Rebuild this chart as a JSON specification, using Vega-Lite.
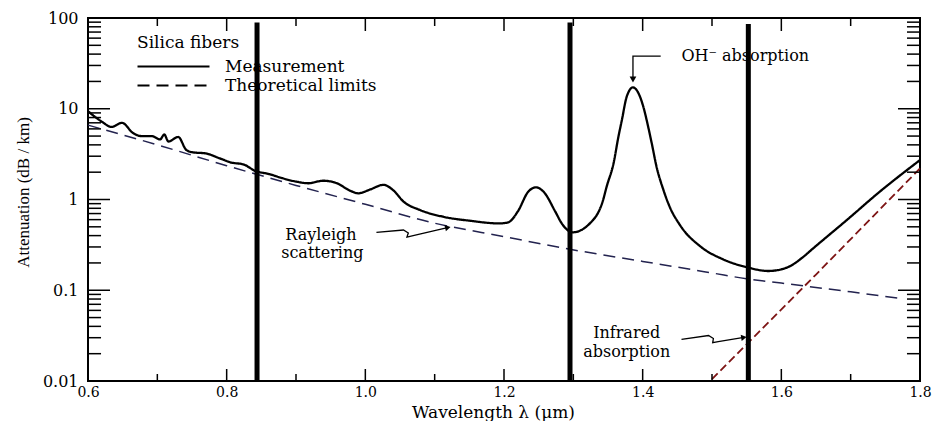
{
  "$schema": "https://vega.github.io/schema/vega-lite/v6.json",
  "width": 832,
  "height": 363,
  "autosize": {"type": "none"},
  "padding": {"left": 88, "top": 18, "right": 13, "bottom": 40},
  "background": "white",
  "config": {
    "view": {"stroke": "black", "strokeWidth": 2},
    "axis": {
      "domain": false,
      "ticks": false,
      "grid": false,
      "labelColor": "black",
      "titleColor": "black",
      "labelFont": "DejaVu Serif",
      "titleFont": "Liberation Serif",
      "titleFontWeight": "normal",
      "labelOverlap": false,
      "labelFlush": false
    }
  },
  "datasets": {
    "measurement": [
      {"x": 0.600, "y": 9.4}, {"x": 0.620, "y": 7.2}, {"x": 0.634, "y": 6.3}, {"x": 0.649, "y": 7.0},
      {"x": 0.665, "y": 5.4}, {"x": 0.677, "y": 5.0}, {"x": 0.692, "y": 5.0}, {"x": 0.704, "y": 4.6},
      {"x": 0.710, "y": 5.2}, {"x": 0.716, "y": 4.35}, {"x": 0.730, "y": 4.9}, {"x": 0.742, "y": 3.5},
      {"x": 0.752, "y": 3.3}, {"x": 0.769, "y": 3.23}, {"x": 0.790, "y": 2.84}, {"x": 0.807, "y": 2.55},
      {"x": 0.824, "y": 2.44}, {"x": 0.841, "y": 2.07}, {"x": 0.862, "y": 1.9}, {"x": 0.880, "y": 1.72},
      {"x": 0.901, "y": 1.57}, {"x": 0.918, "y": 1.51}, {"x": 0.939, "y": 1.61}, {"x": 0.959, "y": 1.51},
      {"x": 0.978, "y": 1.25}, {"x": 0.990, "y": 1.17}, {"x": 1.007, "y": 1.29}, {"x": 1.026, "y": 1.45},
      {"x": 1.040, "y": 1.27}, {"x": 1.055, "y": 0.95}, {"x": 1.079, "y": 0.765}, {"x": 1.112, "y": 0.646},
      {"x": 1.151, "y": 0.583}, {"x": 1.194, "y": 0.545}, {"x": 1.206, "y": 0.56}, {"x": 1.220, "y": 0.74},
      {"x": 1.235, "y": 1.22}, {"x": 1.246, "y": 1.36}, {"x": 1.257, "y": 1.22}, {"x": 1.274, "y": 0.735},
      {"x": 1.283, "y": 0.55}, {"x": 1.299, "y": 0.435}, {"x": 1.324, "y": 0.547}, {"x": 1.343, "y": 0.99},
      {"x": 1.348, "y": 1.38}, {"x": 1.358, "y": 2.5}, {"x": 1.365, "y": 4.9}, {"x": 1.370, "y": 7.5},
      {"x": 1.377, "y": 13.6}, {"x": 1.386, "y": 17.2}, {"x": 1.394, "y": 14.8}, {"x": 1.401, "y": 10.5},
      {"x": 1.408, "y": 6.3}, {"x": 1.413, "y": 4.2}, {"x": 1.420, "y": 2.3}, {"x": 1.430, "y": 1.27},
      {"x": 1.439, "y": 0.83}, {"x": 1.454, "y": 0.52}, {"x": 1.483, "y": 0.305}, {"x": 1.516, "y": 0.219},
      {"x": 1.552, "y": 0.178}, {"x": 1.581, "y": 0.163}, {"x": 1.597, "y": 0.168}, {"x": 1.613, "y": 0.185},
      {"x": 1.630, "y": 0.228}, {"x": 1.646, "y": 0.29},
      {"x": 1.694, "y": 0.59}, {"x": 1.742, "y": 1.22}, {"x": 1.800, "y": 2.72}
    ],
    "rayleigh": [
      {"x": 0.60, "y": 6.6}, {"x": 0.70, "y": 4.0}, {"x": 0.80, "y": 2.36}, {"x": 0.90, "y": 1.43},
      {"x": 1.00, "y": 0.885}, {"x": 1.10, "y": 0.548}, {"x": 1.20, "y": 0.39}, {"x": 1.295, "y": 0.283},
      {"x": 1.40, "y": 0.208}, {"x": 1.50, "y": 0.155}, {"x": 1.552, "y": 0.133}, {"x": 1.60, "y": 0.120},
      {"x": 1.70, "y": 0.096}, {"x": 1.771, "y": 0.0815}
    ],
    "infrared": [
      {"x": 1.500, "y": 0.0105}, {"x": 1.650, "y": 0.149}, {"x": 1.800, "y": 2.2}
    ],
    "windows": [
      {"x": 0.8438, "y0": 0.01, "y1": 89},
      {"x": 1.2952, "y0": 0.01, "y1": 89},
      {"x": 1.5524, "y0": 0.01, "y1": 86}
    ],
    "ticks": [
      {"x0": 0.6, "x1": 0.6, "y0": 0.01, "y1": 0.01356}, {"x0": 0.7, "x1": 0.7, "y0": 0.01, "y1": 0.01194},
      {"x0": 0.8, "x1": 0.8, "y0": 0.01, "y1": 0.01356}, {"x0": 0.9, "x1": 0.9, "y0": 0.01, "y1": 0.01194},
      {"x0": 1.0, "x1": 1.0, "y0": 0.01, "y1": 0.01356}, {"x0": 1.1, "x1": 1.1, "y0": 0.01, "y1": 0.01194},
      {"x0": 1.2, "x1": 1.2, "y0": 0.01, "y1": 0.01356}, {"x0": 1.3, "x1": 1.3, "y0": 0.01, "y1": 0.01194},
      {"x0": 1.4, "x1": 1.4, "y0": 0.01, "y1": 0.01356}, {"x0": 1.5, "x1": 1.5, "y0": 0.01, "y1": 0.01194},
      {"x0": 1.6, "x1": 1.6, "y0": 0.01, "y1": 0.01356}, {"x0": 1.7, "x1": 1.7, "y0": 0.01, "y1": 0.01194},
      {"x0": 1.8, "x1": 1.8, "y0": 0.01, "y1": 0.01356},
      {"x0": 0.6, "x1": 0.6, "y0": 100, "y1": 71.9}, {"x0": 0.7, "x1": 0.7, "y0": 100, "y1": 81.6},
      {"x0": 0.8, "x1": 0.8, "y0": 100, "y1": 71.9}, {"x0": 0.9, "x1": 0.9, "y0": 100, "y1": 81.6},
      {"x0": 1.0, "x1": 1.0, "y0": 100, "y1": 71.9}, {"x0": 1.1, "x1": 1.1, "y0": 100, "y1": 81.6},
      {"x0": 1.2, "x1": 1.2, "y0": 100, "y1": 71.9}, {"x0": 1.3, "x1": 1.3, "y0": 100, "y1": 81.6},
      {"x0": 1.4, "x1": 1.4, "y0": 100, "y1": 71.9}, {"x0": 1.5, "x1": 1.5, "y0": 100, "y1": 81.6},
      {"x0": 1.6, "x1": 1.6, "y0": 100, "y1": 71.9}, {"x0": 1.7, "x1": 1.7, "y0": 100, "y1": 81.6},
      {"x0": 1.8, "x1": 1.8, "y0": 100, "y1": 71.9},
      {"x0": 0.6, "x1": 0.6317, "y0": 0.01, "y1": 0.01}, {"x0": 0.6, "x1": 0.6188, "y0": 0.02, "y1": 0.02},
      {"x0": 0.6, "x1": 0.6188, "y0": 0.03, "y1": 0.03}, {"x0": 0.6, "x1": 0.6188, "y0": 0.04, "y1": 0.04},
      {"x0": 0.6, "x1": 0.6188, "y0": 0.05, "y1": 0.05}, {"x0": 0.6, "x1": 0.6188, "y0": 0.06, "y1": 0.06},
      {"x0": 0.6, "x1": 0.6188, "y0": 0.07, "y1": 0.07}, {"x0": 0.6, "x1": 0.6188, "y0": 0.08, "y1": 0.08},
      {"x0": 0.6, "x1": 0.6188, "y0": 0.09, "y1": 0.09}, {"x0": 0.6, "x1": 0.6317, "y0": 0.1, "y1": 0.1},
      {"x0": 0.6, "x1": 0.6188, "y0": 0.2, "y1": 0.2}, {"x0": 0.6, "x1": 0.6188, "y0": 0.3, "y1": 0.3},
      {"x0": 0.6, "x1": 0.6188, "y0": 0.4, "y1": 0.4}, {"x0": 0.6, "x1": 0.6188, "y0": 0.5, "y1": 0.5},
      {"x0": 0.6, "x1": 0.6188, "y0": 0.6, "y1": 0.6}, {"x0": 0.6, "x1": 0.6188, "y0": 0.7, "y1": 0.7},
      {"x0": 0.6, "x1": 0.6188, "y0": 0.8, "y1": 0.8}, {"x0": 0.6, "x1": 0.6188, "y0": 0.9, "y1": 0.9},
      {"x0": 0.6, "x1": 0.6317, "y0": 1, "y1": 1}, {"x0": 0.6, "x1": 0.6188, "y0": 2, "y1": 2},
      {"x0": 0.6, "x1": 0.6188, "y0": 3, "y1": 3}, {"x0": 0.6, "x1": 0.6188, "y0": 4, "y1": 4},
      {"x0": 0.6, "x1": 0.6188, "y0": 5, "y1": 5}, {"x0": 0.6, "x1": 0.6188, "y0": 6, "y1": 6},
      {"x0": 0.6, "x1": 0.6188, "y0": 7, "y1": 7}, {"x0": 0.6, "x1": 0.6188, "y0": 8, "y1": 8},
      {"x0": 0.6, "x1": 0.6188, "y0": 9, "y1": 9}, {"x0": 0.6, "x1": 0.6317, "y0": 10, "y1": 10},
      {"x0": 0.6, "x1": 0.6188, "y0": 20, "y1": 20}, {"x0": 0.6, "x1": 0.6188, "y0": 30, "y1": 30},
      {"x0": 0.6, "x1": 0.6188, "y0": 40, "y1": 40}, {"x0": 0.6, "x1": 0.6188, "y0": 50, "y1": 50},
      {"x0": 0.6, "x1": 0.6188, "y0": 60, "y1": 60}, {"x0": 0.6, "x1": 0.6188, "y0": 70, "y1": 70},
      {"x0": 0.6, "x1": 0.6188, "y0": 80, "y1": 80}, {"x0": 0.6, "x1": 0.6188, "y0": 90, "y1": 90},
      {"x0": 0.6, "x1": 0.6317, "y0": 100, "y1": 100},
      {"x0": 1.8, "x1": 1.7683, "y0": 0.01, "y1": 0.01}, {"x0": 1.8, "x1": 1.7812, "y0": 0.02, "y1": 0.02},
      {"x0": 1.8, "x1": 1.7812, "y0": 0.03, "y1": 0.03}, {"x0": 1.8, "x1": 1.7812, "y0": 0.04, "y1": 0.04},
      {"x0": 1.8, "x1": 1.7812, "y0": 0.05, "y1": 0.05}, {"x0": 1.8, "x1": 1.7812, "y0": 0.06, "y1": 0.06},
      {"x0": 1.8, "x1": 1.7812, "y0": 0.07, "y1": 0.07}, {"x0": 1.8, "x1": 1.7812, "y0": 0.08, "y1": 0.08},
      {"x0": 1.8, "x1": 1.7812, "y0": 0.09, "y1": 0.09}, {"x0": 1.8, "x1": 1.7683, "y0": 0.1, "y1": 0.1},
      {"x0": 1.8, "x1": 1.7812, "y0": 0.2, "y1": 0.2}, {"x0": 1.8, "x1": 1.7812, "y0": 0.3, "y1": 0.3},
      {"x0": 1.8, "x1": 1.7812, "y0": 0.4, "y1": 0.4}, {"x0": 1.8, "x1": 1.7812, "y0": 0.5, "y1": 0.5},
      {"x0": 1.8, "x1": 1.7812, "y0": 0.6, "y1": 0.6}, {"x0": 1.8, "x1": 1.7812, "y0": 0.7, "y1": 0.7},
      {"x0": 1.8, "x1": 1.7812, "y0": 0.8, "y1": 0.8}, {"x0": 1.8, "x1": 1.7812, "y0": 0.9, "y1": 0.9},
      {"x0": 1.8, "x1": 1.7683, "y0": 1, "y1": 1}, {"x0": 1.8, "x1": 1.7812, "y0": 2, "y1": 2},
      {"x0": 1.8, "x1": 1.7812, "y0": 3, "y1": 3}, {"x0": 1.8, "x1": 1.7812, "y0": 4, "y1": 4},
      {"x0": 1.8, "x1": 1.7812, "y0": 5, "y1": 5}, {"x0": 1.8, "x1": 1.7812, "y0": 6, "y1": 6},
      {"x0": 1.8, "x1": 1.7812, "y0": 7, "y1": 7}, {"x0": 1.8, "x1": 1.7812, "y0": 8, "y1": 8},
      {"x0": 1.8, "x1": 1.7812, "y0": 9, "y1": 9}, {"x0": 1.8, "x1": 1.7683, "y0": 10, "y1": 10},
      {"x0": 1.8, "x1": 1.7812, "y0": 20, "y1": 20}, {"x0": 1.8, "x1": 1.7812, "y0": 30, "y1": 30},
      {"x0": 1.8, "x1": 1.7812, "y0": 40, "y1": 40}, {"x0": 1.8, "x1": 1.7812, "y0": 50, "y1": 50},
      {"x0": 1.8, "x1": 1.7812, "y0": 60, "y1": 60}, {"x0": 1.8, "x1": 1.7812, "y0": 70, "y1": 70},
      {"x0": 1.8, "x1": 1.7812, "y0": 80, "y1": 80}, {"x0": 1.8, "x1": 1.7812, "y0": 90, "y1": 90},
      {"x0": 1.8, "x1": 1.7683, "y0": 100, "y1": 100}
    ],
    "arrows": [
      {"g": "oh", "o": 1, "x": 1.426, "y": 38.1},
      {"g": "oh", "o": 2, "x": 1.386, "y": 38.1},
      {"g": "oh", "o": 3, "x": 1.386, "y": 22.4},
      {"g": "ray", "o": 1, "x": 1.016, "y": 0.435},
      {"g": "ray", "o": 2, "x": 1.055, "y": 0.461},
      {"g": "ray", "o": 3, "x": 1.062, "y": 0.428},
      {"g": "ray", "o": 4, "x": 1.060, "y": 0.386},
      {"g": "ray", "o": 5, "x": 1.069, "y": 0.401},
      {"g": "ray", "o": 6, "x": 1.120, "y": 0.492},
      {"g": "ir", "o": 1, "x": 1.456, "y": 0.0288},
      {"g": "ir", "o": 2, "x": 1.495, "y": 0.0317},
      {"g": "ir", "o": 3, "x": 1.502, "y": 0.0294},
      {"g": "ir", "o": 4, "x": 1.501, "y": 0.0265},
      {"g": "ir", "o": 5, "x": 1.509, "y": 0.0272},
      {"g": "ir", "o": 6, "x": 1.546, "y": 0.0302}
    ],
    "labels": [
      {"text": "OH⁻ absorption", "x": 1.548, "y": 38},
      {"text": "Rayleigh", "x": 0.936, "y": 0.41},
      {"text": "scattering", "x": 0.938, "y": 0.255},
      {"text": "Infrared", "x": 1.377, "y": 0.0338},
      {"text": "absorption", "x": 1.377, "y": 0.0209}
    ]
  },
  "layer": [
    {
      "data": {"name": "measurement"},
      "mark": {"type": "line", "interpolate": "monotone", "color": "black", "strokeWidth": 2.3},
      "encoding": {
        "x": {
          "field": "x", "type": "quantitative",
          "scale": {"domain": [0.6, 1.8], "nice": false, "zero": false},
          "axis": {
            "orient": "bottom",
            "values": [0.6, 0.8, 1, 1.2, 1.4, 1.6, 1.8],
            "format": ".1f",
            "ticks": false, "grid": false, "domain": false,
            "labelPadding": 4,
            "labelFontSize": 14,
            "labelColor": "black",
            "title": "Wavelength  λ  (µm)",
            "titleColor": "black",
            "titleFont": "DejaVu Serif",
            "titleFontSize": 17,
            "titleFontWeight": "normal",
            "titleBaseline": "alphabetic",
            "titleAlign": "center",
            "titleX": 405,
            "titleY": 36
          }
        },
        "y": {
          "field": "y", "type": "quantitative",
          "scale": {"type": "log", "domain": [0.01, 100], "nice": false},
          "axis": {
            "orient": "left",
            "values": [0.01, 0.1, 1, 10, 100],
            "labelExpr": "'' + datum.value",
            "ticks": false, "grid": false, "domain": false,
            "labelPadding": 10,
            "labelFontSize": 16,
            "labelColor": "black",
            "title": "Attenuation (dB / km)",
            "titleColor": "black",
            "titleFont": "Liberation Serif",
            "titleFontSize": 17,
            "titleFontWeight": "normal",
            "titleBaseline": "alphabetic",
            "titleAlign": "center",
            "titleAngle": -90,
            "titleX": -60,
            "titleY": 174
          }
        },
        "strokeDash": {
          "datum": "Measurement", "type": "nominal",
          "scale": {"domain": ["Measurement", "Theoretical limits"], "range": [[1, 0], [12, 7]]},
          "legend": {
            "orient": "none",
            "legendX": 49,
            "legendY": 17,
            "title": "Silica fibers",
            "titleFont": "DejaVu Serif",
            "titleFontSize": 17,
            "titleFontWeight": "normal",
            "titleColor": "black",
            "titlePadding": 6,
            "labelFont": "DejaVu Serif",
            "labelFontSize": 17,
            "labelColor": "black",
            "labelOffset": 71,
            "symbolType": "M-8,0H64",
            "symbolSize": 4,
            "symbolStrokeWidth": 2,
            "symbolStrokeColor": "black",
            "symbolFillColor": "transparent",
            "rowPadding": 1,
            "padding": 0,
            "encode": {"symbols": {"update": {"stroke": {"value": "black"}}}}
          }
        }
      }
    },
    {
      "data": {"name": "rayleigh"},
      "mark": {"type": "line", "interpolate": "monotone", "color": "#23234f", "strokeWidth": 1.5},
      "encoding": {
        "x": {"field": "x", "type": "quantitative", "axis": null},
        "y": {"field": "y", "type": "quantitative", "axis": null},
        "strokeDash": {"datum": "Theoretical limits", "type": "nominal"}
      }
    },
    {
      "data": {"name": "infrared"},
      "mark": {"type": "line", "color": "#7d1414", "strokeWidth": 1.8, "strokeDash": [8, 4]},
      "encoding": {
        "x": {"field": "x", "type": "quantitative", "axis": null},
        "y": {"field": "y", "type": "quantitative", "axis": null}
      }
    },
    {
      "data": {"name": "windows"},
      "mark": {"type": "rule", "color": "black", "strokeWidth": 5},
      "encoding": {
        "x": {"field": "x", "type": "quantitative", "axis": null},
        "y": {"field": "y0", "type": "quantitative", "axis": null},
        "y2": {"field": "y1"}
      }
    },
    {
      "data": {"name": "ticks"},
      "mark": {"type": "rule", "color": "black", "strokeWidth": 1.5},
      "encoding": {
        "x": {"field": "x0", "type": "quantitative", "axis": null},
        "x2": {"field": "x1"},
        "y": {"field": "y0", "type": "quantitative", "axis": null},
        "y2": {"field": "y1"}
      }
    },
    {
      "data": {"name": "arrows"},
      "mark": {"type": "line", "color": "black", "strokeWidth": 1.3},
      "encoding": {
        "x": {"field": "x", "type": "quantitative", "axis": null},
        "y": {"field": "y", "type": "quantitative", "axis": null},
        "detail": {"field": "g"},
        "order": {"field": "o"}
      }
    },
    {
      "data": {"values": [{"x": 1.386, "y": 21.0}]},
      "mark": {"type": "point", "shape": "triangle-down", "filled": true, "color": "black", "size": 45, "opacity": 1},
      "encoding": {
        "x": {"field": "x", "type": "quantitative", "axis": null},
        "y": {"field": "y", "type": "quantitative", "axis": null}
      }
    },
    {
      "data": {"values": [{"x": 1.119, "y": 0.491}]},
      "mark": {"type": "point", "shape": "triangle-right", "filled": true, "color": "black", "size": 40, "opacity": 1, "angle": -13},
      "encoding": {
        "x": {"field": "x", "type": "quantitative", "axis": null},
        "y": {"field": "y", "type": "quantitative", "axis": null}
      }
    },
    {
      "data": {"values": [{"x": 1.546, "y": 0.0302}]},
      "mark": {"type": "point", "shape": "triangle-right", "filled": true, "color": "black", "size": 40, "opacity": 1, "angle": -9},
      "encoding": {
        "x": {"field": "x", "type": "quantitative", "axis": null},
        "y": {"field": "y", "type": "quantitative", "axis": null}
      }
    },
    {
      "data": {"name": "labels"},
      "mark": {"type": "text", "font": "DejaVu Serif", "fontSize": 16, "color": "black", "align": "center", "baseline": "middle"},
      "encoding": {
        "x": {"field": "x", "type": "quantitative", "axis": null},
        "y": {"field": "y", "type": "quantitative", "axis": null},
        "text": {"field": "text"}
      }
    }
  ],
  "resolve": {"axis": {"x": "independent", "y": "independent"}}
}
